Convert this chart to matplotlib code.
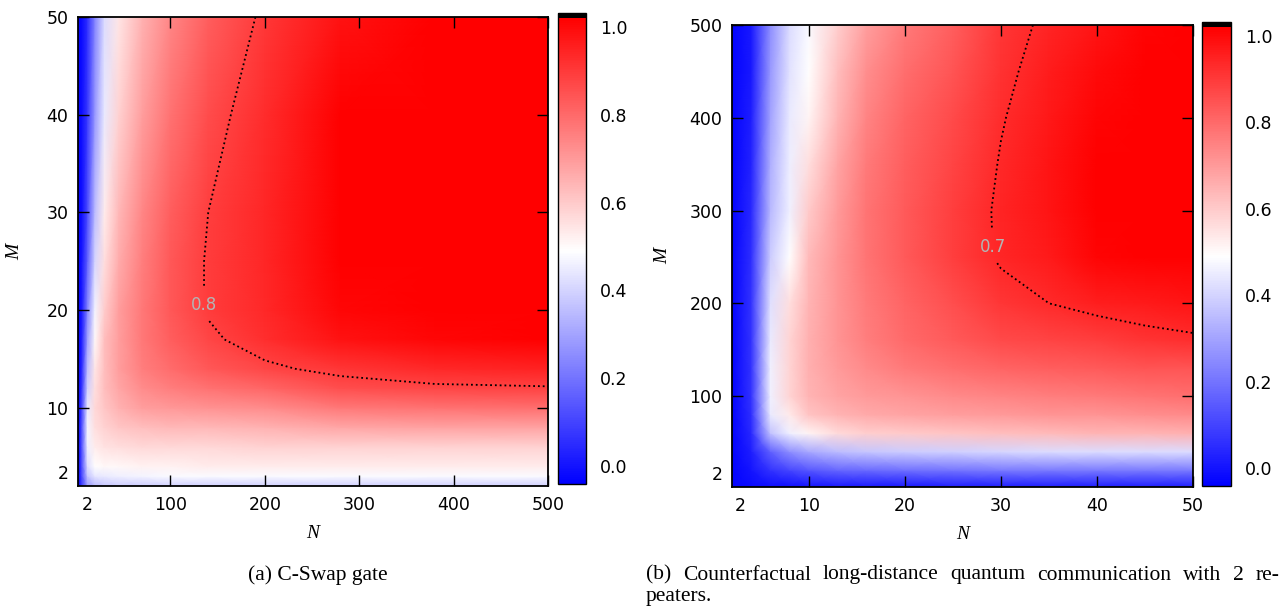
import numpy as np
import matplotlib
matplotlib.use("Agg")
import matplotlib.pyplot as plt
from matplotlib.colors import TwoSlopeNorm, Normalize
from matplotlib import cm

# (a) C-Swap gate : rows follow m_a, columns follow n_a
n_a = [2, 6, 12, 20, 30, 45, 70, 100, 140, 200, 280, 380, 500]
m_a = [2, 3, 4, 6, 8, 10, 12, 14, 17, 20, 25, 30, 40, 50]
z_a = [
    [0.01, 0.12, 0.30, 0.36, 0.39, 0.40, 0.40, 0.41, 0.41, 0.41, 0.41, 0.41, 0.41],
    [0.01, 0.14, 0.38, 0.45, 0.46, 0.47, 0.48, 0.49, 0.49, 0.49, 0.49, 0.49, 0.49],
    [0.01, 0.15, 0.43, 0.50, 0.51, 0.51, 0.52, 0.52, 0.53, 0.53, 0.53, 0.53, 0.53],
    [0.01, 0.16, 0.47, 0.53, 0.545, 0.55, 0.56, 0.56, 0.56, 0.57, 0.57, 0.57, 0.57],
    [0.01, 0.15, 0.48, 0.55, 0.57, 0.59, 0.60, 0.61, 0.61, 0.62, 0.64, 0.645, 0.645],
    [0.01, 0.13, 0.46, 0.56, 0.59, 0.62, 0.65, 0.66, 0.67, 0.68, 0.71, 0.72, 0.725],
    [0.01, 0.10, 0.41, 0.55, 0.60, 0.64, 0.68, 0.70, 0.72, 0.74, 0.775, 0.79, 0.795],
    [0.01, 0.08, 0.37, 0.54, 0.60, 0.65, 0.70, 0.73, 0.76, 0.79, 0.815, 0.835, 0.845],
    [0.01, 0.06, 0.31, 0.51, 0.60, 0.65, 0.71, 0.75, 0.79, 0.825, 0.87, 0.89, 0.90],
    [0.01, 0.05, 0.26, 0.48, 0.58, 0.65, 0.71, 0.76, 0.805, 0.835, 0.89, 0.92, 0.94],
    [0.01, 0.04, 0.19, 0.42, 0.55, 0.63, 0.70, 0.76, 0.805, 0.84, 0.91, 0.95, 0.965],
    [0.01, 0.03, 0.15, 0.37, 0.53, 0.61, 0.69, 0.75, 0.80, 0.84, 0.91, 0.955, 0.975],
    [0.01, 0.03, 0.11, 0.30, 0.46, 0.57, 0.65, 0.72, 0.78, 0.83, 0.90, 0.95, 0.975],
    [0.01, 0.02, 0.09, 0.26, 0.43, 0.54, 0.62, 0.69, 0.75, 0.81, 0.87, 0.92, 0.96],
]
level_a = 0.8
label_pos_a = (137, 20.5)
xticks_a = [2, 100, 200, 300, 400, 500]
yticks_a = [2, 10, 20, 30, 40, 50]

# (b) long-distance communication with 2 repeaters
n_b = [2, 4, 6, 8, 10, 13, 16, 20, 25, 30, 35, 40, 45, 50]
m_b = [2, 20, 40, 60, 80, 100, 130, 160, 200, 250, 300, 350, 400, 450, 500]
z_b = [
    [0.01, 0.02, 0.03, 0.03, 0.04, 0.05, 0.05, 0.05, 0.06, 0.06, 0.06, 0.06, 0.06, 0.06],
    [0.01, 0.04, 0.10, 0.14, 0.17, 0.20, 0.21, 0.22, 0.23, 0.24, 0.24, 0.24, 0.24, 0.24],
    [0.01, 0.06, 0.19, 0.28, 0.33, 0.37, 0.39, 0.40, 0.41, 0.42, 0.43, 0.43, 0.43, 0.43],
    [0.01, 0.08, 0.38, 0.47, 0.51, 0.535, 0.545, 0.55, 0.555, 0.56, 0.565, 0.57, 0.57, 0.575],
    [0.01, 0.09, 0.46, 0.52, 0.555, 0.57, 0.58, 0.585, 0.59, 0.595, 0.60, 0.60, 0.605, 0.61],
    [0.01, 0.10, 0.47, 0.54, 0.57, 0.585, 0.595, 0.60, 0.61, 0.615, 0.62, 0.625, 0.63, 0.635],
    [0.01, 0.10, 0.47, 0.54, 0.575, 0.595, 0.61, 0.625, 0.635, 0.645, 0.65, 0.655, 0.66, 0.66],
    [0.01, 0.10, 0.46, 0.54, 0.575, 0.60, 0.62, 0.64, 0.655, 0.67, 0.675, 0.68, 0.69, 0.695],
    [0.01, 0.10, 0.44, 0.53, 0.57, 0.60, 0.625, 0.645, 0.665, 0.688, 0.70, 0.71, 0.715, 0.72],
    [0.01, 0.09, 0.40, 0.50, 0.565, 0.60, 0.63, 0.655, 0.68, 0.704, 0.715, 0.735, 0.745, 0.75],
    [0.01, 0.08, 0.36, 0.47, 0.55, 0.595, 0.63, 0.655, 0.68, 0.705, 0.72, 0.74, 0.75, 0.757],
    [0.01, 0.07, 0.34, 0.465, 0.53, 0.585, 0.625, 0.65, 0.675, 0.702, 0.72, 0.74, 0.75, 0.757],
    [0.01, 0.06, 0.32, 0.46, 0.51, 0.57, 0.615, 0.645, 0.67, 0.698, 0.717, 0.735, 0.747, 0.755],
    [0.01, 0.05, 0.30, 0.445, 0.50, 0.56, 0.605, 0.635, 0.66, 0.693, 0.712, 0.73, 0.742, 0.75],
    [0.01, 0.05, 0.28, 0.43, 0.49, 0.545, 0.59, 0.625, 0.65, 0.688, 0.706, 0.72, 0.735, 0.745],
]
level_b = 0.7
label_pos_b = (28.3, 260)
xticks_b = [2, 10, 20, 30, 40, 50]
yticks_b = [2, 100, 200, 300, 400, 500]

cbar_ticks = [0.0, 0.2, 0.4, 0.6, 0.8, 1.0]
captions = ["(a) C-Swap gate",
            "(b) Counterfactual long-distance quantum communication with 2 re-",
            "peaters."]

W, H = 1288, 607
TICK_FONT = "DejaVu Sans"
SERIF = "Liberation Serif"
CAP_SIZE = 15.5

fig = plt.figure(figsize=(W / 100, H / 100), dpi=100)


def rect(x0, y0, x1, y1):
    # pixel box (top-left origin) -> figure fraction
    return [x0 / W, 1 - y1 / H, (x1 - x0) / W, (y1 - y0) / H]


def panel(box, cbox, n, m, z, vmax, level, lpos, xt, yt, xoff, yoff, ylabel_x):
    ax = fig.add_axes(rect(*box))
    X, Y = np.meshgrid(n, m)
    Z = np.array(z)
    norm = TwoSlopeNorm(vcenter=0.5, vmin=0.0, vmax=vmax)
    ax.pcolormesh(X, Y, Z, cmap="bwr", norm=norm, shading="gouraud", rasterized=True)
    cs = ax.contour(X, Y, Z, levels=[level], colors="black", linewidths=1.3,
                    linestyles=":")
    labels = ax.clabel(cs, manual=[lpos], inline=True, inline_spacing=4, fontsize=12,
                       colors="#b4b4b4", fmt={level: f"{level:.1f}"})
    for t in labels:
        t.set_rotation(0)
    ax.set_xlim(n[0], n[-1])
    ax.set_ylim(m[0], m[-1])

    # first label of each axis sits a little inside the corner, with no tick mark
    ax.set_xticks([xt[0] + xoff] + xt[1:])
    ax.set_xticklabels([str(v) for v in xt])
    ax.set_yticks([yt[0] + yoff] + yt[1:])
    ax.set_yticklabels([str(v) for v in yt])
    ax.tick_params(direction="in", length=8, width=1, top=True, right=True,
                   labelsize=12.5, pad=7)
    for lab in ax.get_xticklabels() + ax.get_yticklabels():
        lab.set_fontfamily(TICK_FONT)
    for t in (ax.xaxis.get_major_ticks()[0], ax.yaxis.get_major_ticks()[0]):
        t.tick1line.set_visible(False)
        t.tick2line.set_visible(False)
    for s in ax.spines.values():
        s.set_linewidth(1.3)

    ax.set_xlabel("N", fontfamily=SERIF, fontstyle="italic", fontsize=14, labelpad=8)
    ax.set_ylabel("M", fontfamily=SERIF, fontstyle="italic", fontsize=14)
    ax.yaxis.set_label_coords(ylabel_x, 0.5)

    # colorbar with a black cap on top
    cax = fig.add_axes(rect(*cbox))
    cmap = plt.get_cmap("bwr").copy()
    cmap.set_over("black")
    sm = cm.ScalarMappable(norm=Normalize(-0.042, 1.022), cmap=cmap)
    cb = fig.colorbar(sm, cax=cax, extend="max", extendrect=True, extendfrac=0.01,
                      ticks=cbar_ticks)
    cb.ax.set_yticklabels([f"{v:.1f}" for v in cbar_ticks])
    cb.ax.tick_params(length=0, labelsize=12.5, pad=10)
    for lab in cb.ax.get_yticklabels():
        lab.set_fontfamily(TICK_FONT)
    cb.outline.set_linewidth(1.0)
    return ax


panel((78, 17, 548, 486), (558, 13, 586, 484), n_a, m_a, z_a, 0.9, level_a,
      label_pos_a, xticks_a, yticks_a, 9.6, 1.4, -0.117)
panel((732, 25, 1193, 487), (1202, 22, 1231, 486), n_b, m_b, z_b, 0.74, level_b,
      label_pos_b, xticks_b, yticks_b, 0.85, 15, -0.132)

fig.text(318 / W, 1 - 575 / H, captions[0], ha="center", va="center",
         fontfamily=SERIF, fontsize=CAP_SIZE)

# justified first line of caption (b)
words = captions[1].split()
x_left, x_right, y_line = 646, 1279, 575
renderer = fig.canvas.get_renderer()
texts = [fig.text(0, 1 - y_line / H, w, ha="left", va="center",
                  fontfamily=SERIF, fontsize=CAP_SIZE) for w in words]
widths = [t.get_window_extent(renderer).width for t in texts]
gap = (x_right - x_left - sum(widths)) / (len(words) - 1)
x = x_left
for t, wd in zip(texts, widths):
    t.set_x(x / W)
    x += wd + gap
fig.text(x_left / W, 1 - 596 / H, captions[2], ha="left", va="center",
         fontfamily=SERIF, fontsize=CAP_SIZE)

fig.savefig("out.png", dpi=100)
